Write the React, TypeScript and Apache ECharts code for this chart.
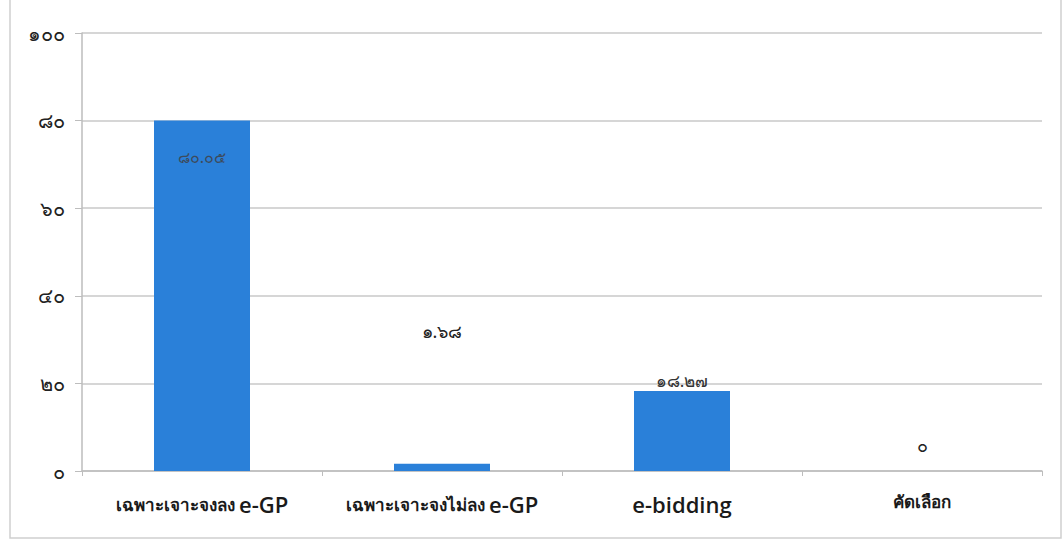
import React, { useEffect, useRef } from "react";
import * as echarts from "echarts";

const categories = ["เฉพาะเจาะจงลง e-GP", "เฉพาะเจาะจงไม่ลง e-GP", "e-bidding", "คัดเลือก"];
const values = [80.05, 1.68, 18.27, 0];
const yTicks = [0, 20, 40, 60, 80, 100];

const thaiDigits = ["๐", "๑", "๒", "๓", "๔", "๕", "๖", "๗", "๘", "๙"];
const toThai = (s: string) => s.replace(/[0-9]/g, (d) => thaiDigits[Number(d)]);

export default function App() {
  const ref = useRef<HTMLDivElement>(null);
  useEffect(() => {
    if (!ref.current) return;
    const chart = echarts.init(ref.current, null, { renderer: "svg" });
    const labelCfg = [
      { position: "insideTop", distance: 29, color: "#3d4b5c", offset: [0, 0], size: 16 },
      { position: "top", distance: 5, color: "#222", offset: [0, -119], size: 18 },
      { position: "top", distance: 2, color: "#333", offset: [0, 0], size: 17 },
      { position: "top", distance: 5, color: "#222", offset: [0, -12], size: 18 },
    ];
    chart.setOption({
      animation: false,
      backgroundColor: "#fff",
      graphic: [
        {
          type: "rect",
          shape: { x: 10, y: -5, width: 1051, height: 543 },
          style: { fill: "none", stroke: "#cfcfcf", lineWidth: 1.5 },
          silent: true,
        },
      ],
      grid: { left: 82, right: 22, top: 33, bottom: 71, containLabel: false },
      xAxis: {
        type: "category",
        data: categories,
        axisLine: { show: true, lineStyle: { color: "#bdbdbd", width: 1.5 } },
        axisTick: { show: true, length: 5, alignWithLabel: false, lineStyle: { color: "#bdbdbd" } },
        axisLabel: {
          margin: 22,
          interval: 0,
          formatter: (v: string) => {
            const m = v.match(/^(.*?)\s*(e-[A-Za-z]+)$/);
            if (m && m[1]) return `{th|${m[1]} }{en|${m[2]}}`;
            if (/^e-/.test(v)) return `{en|${v}}`;
            return `{th|${v}}`;
          },
          rich: {
            th: { fontSize: 17, fontWeight: "bold", color: "#1a1a1a", fontFamily: "Noto Sans, sans-serif" },
            en: { fontSize: 22, fontWeight: 600, color: "#1a1a1a", fontFamily: "Open Sans, Noto Sans, sans-serif" },
          },
        },
      },
      yAxis: {
        type: "value",
        min: 0,
        max: 100,
        interval: 20,
        axisLine: { show: true, lineStyle: { color: "#bdbdbd", width: 1.5 } },
        axisTick: { show: true, length: 7, inside: false, lineStyle: { color: "#bdbdbd" } },
        splitLine: { show: true, lineStyle: { color: "#c8c8c8", width: 1.5 } },
        axisLabel: {
          margin: 17,
          fontSize: 20,
          color: "#222",
          fontFamily: "Noto Sans, sans-serif",
          formatter: (v: number) => (yTicks.includes(v) ? toThai(String(v)) : ""),
        },
      },
      series: [
        {
          type: "bar",
          barWidth: "40%",
          data: values.map((v, i) => ({
            value: v,
            label: {
              show: true,
              position: labelCfg[i].position,
              distance: labelCfg[i].distance,
              offset: labelCfg[i].offset,
              color: labelCfg[i].color,
              fontSize: labelCfg[i].size,
            },
          })),
          itemStyle: { color: "#2a80d9" },
          label: {
            show: true,
            fontSize: 17,
            fontFamily: "Noto Sans, sans-serif",
            formatter: (p: any) => toThai(String(p.value)),
          },
        },
      ],
    });
    return () => chart.dispose();
  }, []);
  return (
    <div
      ref={ref}
      style={{ position: "absolute", left: 0, top: 0, width: 1064, height: 542 }}
    />
  );
}
